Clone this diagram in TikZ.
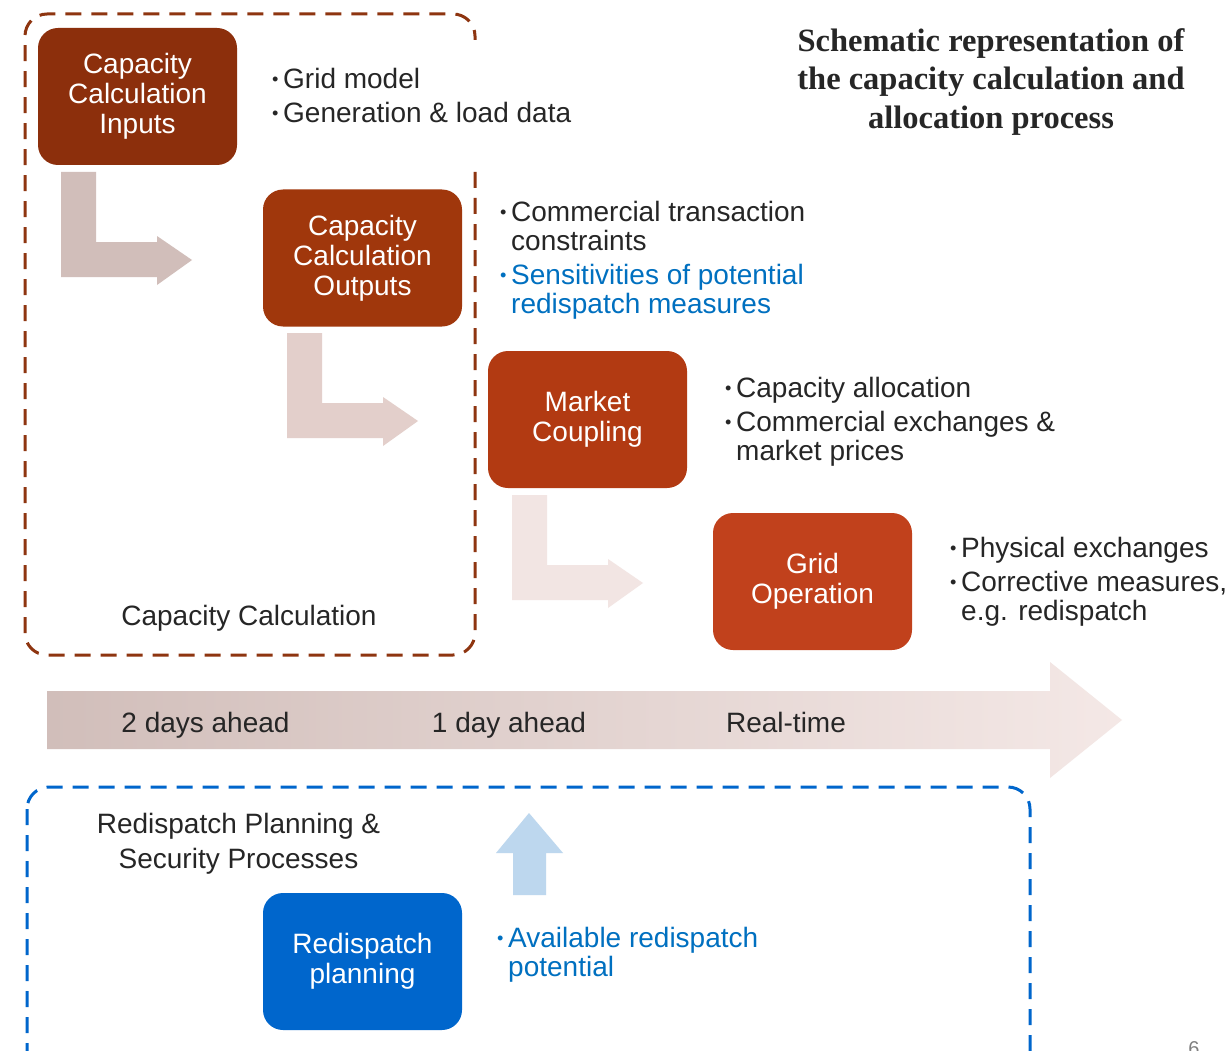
\documentclass[tikz,border=0pt]{standalone}
\usepackage{fontspec}
\setmainfont{Liberation Sans}
\newfontfamily\titlefont{Liberation Serif}
\usetikzlibrary{positioning}

\definecolor{inputs brown}{HTML}{8C2F0C}
\definecolor{outputs brown}{HTML}{A0370C}
\definecolor{coupling brown}{HTML}{B23A12}
\definecolor{operation brown}{HTML}{C1411C}
\definecolor{frame brown}{HTML}{8E3510}
\definecolor{planning blue}{HTML}{0066CC}
\definecolor{notes blue}{HTML}{0070C0}
\definecolor{elbow one}{HTML}{D1BEBA}
\definecolor{elbow two}{HTML}{E3CFCB}
\definecolor{elbow three}{HTML}{F2E5E3}
\definecolor{time left}{HTML}{D1BEBA}
\definecolor{time right}{HTML}{F4E8E6}
\definecolor{up blue}{HTML}{BDD7EE}
\definecolor{text gray}{HTML}{262626}

\newcommand{\noteitem}{\makebox[11pt][l]{\raisebox{3pt}{\scalebox{0.65}{\textbullet}}}}
\newcommand{\notecont}{\hspace*{11pt}}

\begin{document}
\begin{tikzpicture}[x=1pt,y=-1pt,
  process box/.style={rounded corners=20pt, minimum width=199pt, minimum height=137pt,
    inner sep=0pt, text=white, align=center, font=\fontsize{28}{30}\selectfont},
  note text/.style={anchor=north west, align=left, inner sep=0pt, text=text gray,
    font=\fontsize{28}{29}\selectfont},
  plain label/.style={anchor=base, inner sep=0pt, text=text gray,
    font=\fontsize{28}{35}\selectfont},
  frame line/.style={line width=3pt, dash pattern=on 16pt off 10pt, rounded corners=22pt}]
\useasboundingbox[fill=white] (0,0) rectangle (1231,1051);

% dashed frames
\draw[frame line, frame brown] (475,172) -- (475,655) -- (25,655) -- (25,14) -- (475,14) -- (475,40);
\draw[frame line, planning blue] (27,787) rectangle (1030,1075);

% elbow arrows between the steps
\foreach \dx/\dy/\col in {61/172/elbow one, 287/333/elbow two, 512/495/elbow three}
  \fill[\col, shift={(\dx,\dy)}] (0,0) -- (35,0) -- (35,70) -- (96,70) -- (96,64) -- (131,88)
    -- (96,113) -- (96,105) -- (0,105) -- cycle;

% time line
\shade[left color=time left, right color=time right] (47,691) -- (1050,691) -- (1050,662) -- (1122,720)
  -- (1050,778) -- (1050,749) -- (47,749) -- cycle;
\fill[up blue] (513,895) -- (513,853) -- (496,853) -- (529,813) -- (563,853) -- (546,853) -- (546,895) -- cycle;

\node[process box, fill=inputs brown] (inputs) at (137.5,96.5) {Capacity\\Calculation\\Inputs};
\node[process box, fill=outputs brown] (outputs) at (362.5,258) {Capacity\\Calculation\\Outputs};
\node[process box, fill=coupling brown] (coupling) at (587.5,419.5) {Market\\Coupling};
\node[process box, fill=operation brown] (operation) at (812.5,581.5) {Grid\\Operation};
\node[process box, fill=planning blue] (planning) at (362.5,961.5) {Redispatch\\planning};

\node[note text] (inputs notes) at (272,68) {\noteitem Grid model\\[5pt]\noteitem Generation \& load data};
\node[note text] (outputs notes) at (500,201) {\noteitem Commercial transaction\\\notecont constraints\\[5pt]
  {\color{notes blue}\noteitem Sensitivities of potential}\\{\color{notes blue}\notecont redispatch measures}};
\node[note text] (coupling notes) at (725,377) {\noteitem Capacity allocation\\[5pt]\noteitem Commercial exchanges \&\\\notecont market prices};
\node[note text] (operation notes) at (950,537) {\noteitem Physical exchanges\\[5pt]\noteitem Corrective measures,\\\notecont e.g. redispatch};
\node[note text, text=notes blue] (planning notes) at (497,927) {\noteitem Available redispatch\\\notecont potential};

\node[plain label] (calc label) at (249,625) {Capacity Calculation};
\node[plain label] (two days) at (205.5,732) {2 days ahead};
\node[plain label] (one day) at (509,732) {1 day ahead};
\node[plain label] (real time) at (786,732) {Real-time};
\node[plain label, anchor=north, align=center] (security label) at (238.5,813) {Redispatch Planning \&\\Security Processes};

\node[anchor=north, align=center, inner sep=0pt, text=text gray,
  font=\titlefont\bfseries\fontsize{32.5}{38.5}\selectfont] (title) at (991,28)
  {Schematic representation of\\the capacity calculation and\\allocation process};
\node[anchor=north, inner sep=0pt, text=gray, font=\fontsize{20}{20}\selectfont] (page) at (1194,1041) {6};
\end{tikzpicture}
\end{document}
